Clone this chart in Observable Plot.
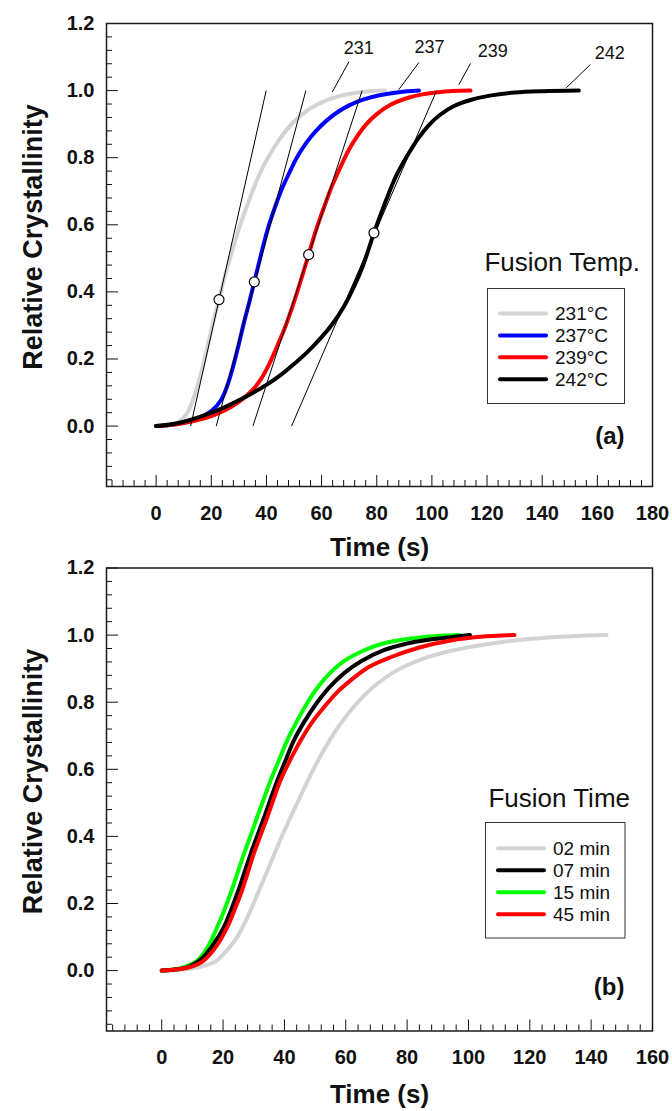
<!DOCTYPE html>
<html><head><meta charset="utf-8">
<script src="https://cdn.jsdelivr.net/npm/d3@7"></script>
<script src="https://cdn.jsdelivr.net/npm/@observablehq/plot@0.6"></script>
<style>body{margin:0;background:#fff;} #chart{width:672px;} #chart svg{display:block;}</style>
</head><body><div id="chart"></div>
<script>
const FONT = "'Liberation Sans', Arial, Helvetica, sans-serif";

// ---------- Panel (a): fusion temperature ----------
const tempNames  = ["231", "237", "239", "242"];
const tempLabels = ["231°C", "237°C", "239°C", "242°C"];
const tempColors = ["#d3d3d3", "#0000ff", "#ff0000", "#000000"];

const t231 = [0, 4, 8, 11, 13, 15, 17, 19, 21, 22.8, 25, 27.5, 30.5, 34, 38, 42, 47, 53, 60, 67, 75, 83];
const v231 = [0, 0.003, 0.012, 0.035, 0.07, 0.12, 0.18, 0.25, 0.32, 0.377, 0.45, 0.52, 0.60, 0.68, 0.76, 0.82, 0.88, 0.93, 0.965, 0.985, 0.996, 1.0];

const t237 = [0, 5, 10, 15, 20, 23.5, 26, 28.3, 30, 31.9, 33.8, 35.6, 38, 40.4, 43, 45.5, 48, 51, 54.5, 58, 62, 66, 70, 75, 81, 88, 95.3];
const v237 = [0, 0.003, 0.01, 0.022, 0.045, 0.077, 0.125, 0.19, 0.245, 0.31, 0.37, 0.43, 0.51, 0.585, 0.65, 0.705, 0.75, 0.80, 0.845, 0.88, 0.912, 0.937, 0.956, 0.973, 0.986, 0.995, 1.0];

const t239 = [0, 5, 10, 15, 20, 25, 30, 35, 38, 41, 44, 47, 50, 52.5, 55.3, 58, 61, 64, 67, 70, 73, 76, 80, 85, 90, 96, 103, 114];
const v239 = [0, 0.003, 0.009, 0.018, 0.03, 0.047, 0.072, 0.108, 0.14, 0.185, 0.24, 0.30, 0.37, 0.435, 0.511, 0.585, 0.655, 0.72, 0.775, 0.825, 0.865, 0.898, 0.93, 0.958, 0.975, 0.988, 0.996, 1.0];

const t242 = [0, 5, 10, 15, 20, 25, 30, 35, 40, 45, 50, 55, 60, 64, 68, 72, 75, 79, 83, 87, 91, 95, 99, 103, 108, 114, 121, 130, 140, 153.3];
const v242 = [0, 0.005, 0.013, 0.025, 0.04, 0.057, 0.077, 0.099, 0.123, 0.151, 0.185, 0.222, 0.265, 0.305, 0.355, 0.42, 0.478, 0.576, 0.665, 0.745, 0.805, 0.857, 0.898, 0.928, 0.954, 0.972, 0.985, 0.994, 0.998, 1.0];

// half-time markers and tangent lines
const markT = [22.8, 35.6, 55.3, 79.0];
const markV = [0.377, 0.43, 0.511, 0.576];
const tanT0 = [12.5, 21.8, 35.1, 49.1];
const tanT1 = [39.9, 54.3, 74.7, 101.7];

// curve labels with leader lines
const annoX  = [73.5, 99.1, 122.1, 164.5];
const annoY  = [1.126, 1.130, 1.118, 1.111];
const leadX1 = [63.9, 88.0, 109.8, 148.7];
const leadY1 = [0.996, 1.003, 1.018, 1.008];
const leadX2 = [69.9, 95.3, 114.0, 157.5];
const leadY2 = [1.086, 1.084, 1.081, 1.078];

// ---------- Panel (b): fusion time ----------
const timeLabels = ["02 min", "07 min", "15 min", "45 min"];
const timeColors = ["#d3d3d3", "#000000", "#00ff00", "#ff0000"];

const t02 = [0, 5, 10, 14, 18, 21, 24.6, 28, 31.1, 34, 36.6, 39.3, 42, 44.7, 47.4, 50.5, 54, 58, 62, 66, 70.3, 75, 80, 86, 92, 99, 107, 115, 125, 135, 145];
const v02 = [0, 0.002, 0.007, 0.015, 0.03, 0.058, 0.10, 0.16, 0.225, 0.288, 0.345, 0.403, 0.457, 0.51, 0.562, 0.618, 0.675, 0.732, 0.78, 0.82, 0.855, 0.886, 0.91, 0.932, 0.948, 0.962, 0.974, 0.984, 0.992, 0.997, 1.0];

const t07 = [0, 5, 9, 13, 17, 20.3, 22.5, 24.6, 26.8, 29, 31.2, 33.4, 35.5, 37.7, 40.4, 43.1, 46.5, 50.7, 54.5, 59.4, 65, 72.4, 80, 87, 94.2, 100.5];
const v07 = [0, 0.004, 0.012, 0.035, 0.08, 0.13, 0.178, 0.229, 0.288, 0.348, 0.403, 0.457, 0.512, 0.567, 0.627, 0.686, 0.742, 0.80, 0.843, 0.886, 0.922, 0.955, 0.975, 0.986, 0.994, 1.0];

const t15 = [0, 5, 8, 11.6, 15, 18.1, 20.3, 22.4, 24.6, 26.8, 29, 31.1, 33.3, 35.5, 38.2, 40.9, 44, 47.4, 51, 55, 60, 65.9, 71, 76.8, 84, 91, 97];
const v15 = [0, 0.005, 0.013, 0.03, 0.07, 0.13, 0.178, 0.229, 0.288, 0.348, 0.403, 0.457, 0.512, 0.567, 0.627, 0.686, 0.742, 0.797, 0.846, 0.888, 0.926, 0.954, 0.972, 0.984, 0.993, 0.998, 1.0];

const t45 = [0, 5, 9, 13.7, 18, 21.4, 23.6, 25.8, 28, 30, 32.2, 34.4, 36.5, 38.7, 42, 45.3, 49, 52.9, 57, 61.6, 67.5, 74.6, 84, 94.2, 104, 115];
const v45 = [0, 0.004, 0.01, 0.03, 0.075, 0.13, 0.178, 0.229, 0.29, 0.348, 0.403, 0.457, 0.512, 0.567, 0.63, 0.686, 0.74, 0.785, 0.828, 0.865, 0.905, 0.934, 0.963, 0.984, 0.995, 1.0];

// ---------- axes ----------
const yMajor = [0, 0.2, 0.4, 0.6, 0.8, 1.0, 1.2];
const xMajorA = [0, 20, 40, 60, 80, 100, 120, 140, 160, 180];
const xMajorB = [0, 20, 40, 60, 80, 100, 120, 140, 160];
const yDomain = [-0.18, 1.2];
const xDomainA = [-18, 180];
const xDomainB = [-18, 160];

const yMinor = d3.range(-16, 120, 4).filter(d => d % 20 !== 0).map(d => d / 100);
const xMinorA = d3.range(-16, 180, 4).filter(d => d % 20 !== 0);
const xMinorB = d3.range(-16, 160, 4).filter(d => d % 20 !== 0);

const zip = (ts, vs) => ts.map((t, i) => ({t, v: vs[i]}));

function axes(xMajor, xMinor) {
  return [
    Plot.axisY(yMinor, {tickSize: -6, fill: "none", label: null, stroke: "#111"}),
    Plot.axisY(yMajor, {tickSize: -12, tickPadding: 24, tickFormat: d3.format(".1f"), label: null,
      fontSize: 20, fontWeight: "bold", stroke: "#111", fill: "#111"}),
    Plot.axisX(xMinor, {tickSize: -6, fill: "none", label: null, stroke: "#111"}),
    Plot.axisX(xMajor, {tickSize: -11, tickPadding: 30, tickFormat: d => String(d), label: null,
      fontSize: 20, fontWeight: "bold", stroke: "#111", fill: "#111"}),
    Plot.frame({stroke: "#1a1a1a", strokeWidth: 1.5}),
    Plot.text(["Relative Crystallinity"], {frameAnchor: "left", textAnchor: "middle", lineAnchor: "middle",
      rotate: -90, dx: -73, dy: -18, fontSize: 27, fontWeight: "bold", fill: "#111"})
  ];
}

function addLegend(svg, {title, titleX, titleY, box, lineX1, lineX2, textX, rowY0, rowStep, labels, colors}) {
  const g = d3.select(svg).append("g").attr("font-family", FONT).attr("text-anchor", "start");
  g.append("text").attr("x", titleX).attr("y", titleY).attr("text-anchor", "end")
    .attr("dy", "0.35em").attr("font-size", 26).attr("fill", "#111").text(title);
  g.append("rect").attr("x", box[0]).attr("y", box[1]).attr("width", box[2]).attr("height", box[3])
    .attr("fill", "white").attr("stroke", "#333").attr("stroke-width", 1);
  labels.forEach((lab, i) => {
    const y = rowY0 + i * rowStep;
    g.append("line").attr("x1", lineX1).attr("x2", lineX2).attr("y1", y).attr("y2", y)
      .attr("stroke", colors[i]).attr("stroke-width", 4).attr("stroke-linecap", "round");
    g.append("text").attr("x", textX).attr("y", y).attr("dy", "0.35em").attr("text-anchor", "start")
      .attr("font-size", 19).attr("fill", "#111").text(lab);
  });
}

// ---------- Panel (a) plot ----------
const seriesA = [zip(t231, v231), zip(t237, v237), zip(t239, v239), zip(t242, v242)];
const marksA = tempNames.map((n, i) => Plot.line(seriesA[i], {
  x: "t", y: "v", stroke: tempColors[i], strokeWidth: 4, curve: "catmull-rom", strokeLinecap: "round"
}));
const tanData = tanT0.map((t0, i) => ({t0, t1: tanT1[i]}));
const markData = markT.map((t, i) => ({t, v: markV[i]}));
const annoData = tempNames.map((n, i) => ({n, x: annoX[i], y: annoY[i], x1: leadX1[i], y1: leadY1[i], x2: leadX2[i], y2: leadY2[i]}));

const plotA = Plot.plot({
  width: 672, height: 556,
  marginLeft: 106, marginRight: 20, marginTop: 23, marginBottom: 70,
  x: {domain: xDomainA, label: null},
  y: {domain: yDomain, label: null},
  style: {fontFamily: FONT, background: "white", overflow: "visible"},
  marks: [
    ...marksA,
    Plot.link(tanData, {x1: "t0", y1: () => 0, x2: "t1", y2: () => 1, stroke: "black", strokeWidth: 1}),
    Plot.dot(markData, {x: "t", y: "v", r: 5, fill: "white", stroke: "black", strokeWidth: 1.2}),
    Plot.link(annoData, {x1: "x1", y1: "y1", x2: "x2", y2: "y2", stroke: "black", strokeWidth: 1}),
    Plot.text(annoData, {x: "x", y: "y", text: "n", fontSize: 18, fill: "#111"}),
    ...axes(xMajorA, xMinorA),
    Plot.text(["Time (s)"], {frameAnchor: "bottom", lineAnchor: "middle", dy: 61, fontSize: 26, fontWeight: "bold", fill: "#111"}),
    Plot.text(["(a)"], {frameAnchor: "bottom-right", textAnchor: "end", lineAnchor: "middle", dx: -28, dy: -50, fontSize: 24, fontWeight: "bold", fill: "#111"})
  ]
});
addLegend(plotA, {
  title: "Fusion Temp.", titleX: 640, titleY: 262,
  box: [487.5, 288.5, 137, 115],
  lineX1: 500, lineX2: 546, textX: 555, rowY0: 313.5, rowStep: 21.9,
  labels: tempLabels, colors: tempColors
});

// ---------- Panel (b) plot ----------
const seriesB = [zip(t02, v02), zip(t07, v07), zip(t15, v15), zip(t45, v45)];
const drawOrder = [0, 2, 1, 3];
const marksB = drawOrder.map(i => Plot.line(seriesB[i], {
  x: "t", y: "v", stroke: timeColors[i], strokeWidth: 4, curve: "catmull-rom", strokeLinecap: "round"
}));

const plotB = Plot.plot({
  width: 672, height: 555,
  marginLeft: 106, marginRight: 20, marginTop: 11.5, marginBottom: 80.5,
  x: {domain: xDomainB, label: null},
  y: {domain: yDomain, label: null},
  style: {fontFamily: FONT, background: "white", overflow: "visible"},
  marks: [
    ...marksB,
    ...axes(xMajorB, xMinorB),
    Plot.text(["Time (s)"], {frameAnchor: "bottom", lineAnchor: "middle", dy: 64, fontSize: 26, fontWeight: "bold", fill: "#111"}),
    Plot.text(["(b)"], {frameAnchor: "bottom-right", textAnchor: "end", lineAnchor: "middle", dx: -28, dy: -44, fontSize: 24, fontWeight: "bold", fill: "#111"})
  ]
});
addLegend(plotB, {
  title: "Fusion Time", titleX: 630, titleY: 241.5,
  box: [485.5, 266.5, 139.5, 115.5],
  lineX1: 498, lineX2: 544, textX: 553, rowY0: 292.3, rowStep: 22,
  labels: timeLabels, colors: timeColors
});

document.getElementById("chart").append(plotA, plotB);
</script>
</body></html>
